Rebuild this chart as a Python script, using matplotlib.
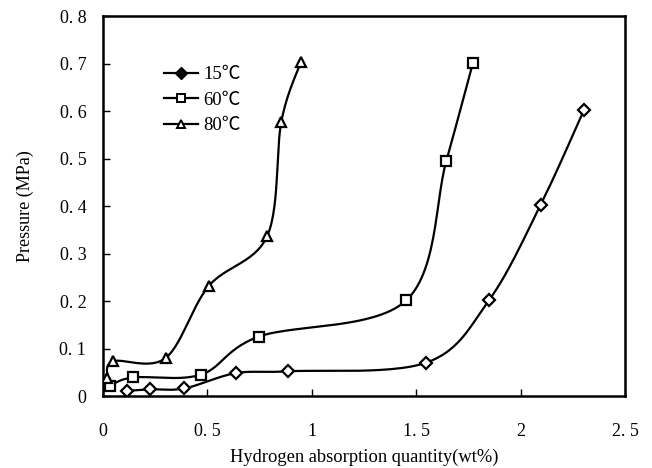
import numpy as np
import matplotlib
matplotlib.use("Agg")
import matplotlib.pyplot as plt
from matplotlib.lines import Line2D

# Data
x15 = [0.114, 0.224, 0.39, 0.635, 0.886, 1.547, 1.848, 2.096, 2.304]
y15 = [0.012, 0.015, 0.017, 0.049, 0.053, 0.071, 0.202, 0.403, 0.603]
x60 = [0.032, 0.144, 0.47, 0.747, 1.452, 1.644, 1.772]
y60 = [0.022, 0.040, 0.046, 0.126, 0.202, 0.495, 0.702]
x80 = [0.021, 0.048, 0.30, 0.506, 0.787, 0.854, 0.947]
y80 = [0.038, 0.074, 0.081, 0.232, 0.338, 0.578, 0.703]
labels = ["15℃", "60℃", "80℃"]
xticks = [0, 0.5, 1, 1.5, 2, 2.5]
xticklabels = ["0", "0. 5", "1", "1. 5", "2", "2. 5"]
yticks = [0, 0.1, 0.2, 0.3, 0.4, 0.5, 0.6, 0.7, 0.8]
yticklabels = ["0", "0. 1", "0. 2", "0. 3", "0. 4", "0. 5", "0. 6", "0. 7", "0. 8"]

FONT = ["Liberation Serif", "Noto Sans CJK SC", "DejaVu Serif"]
plt.rcParams["font.family"] = FONT


def smooth(xs, ys, n=30):
    """Excel-like smoothed line (Catmull-Rom Bezier) through the points."""
    P = np.column_stack([xs, ys]).astype(float)
    out = []
    for i in range(len(P) - 1):
        p0 = P[i - 1] if i > 0 else P[i]
        p1 = P[i]
        p2 = P[i + 1]
        p3 = P[i + 2] if i + 2 < len(P) else P[i + 1]
        c1 = p1 + (p2 - p0) / 6.0
        c2 = p2 - (p3 - p1) / 6.0
        t = np.linspace(0, 1, n)[:, None]
        seg = ((1 - t) ** 3) * p1 + 3 * ((1 - t) ** 2) * t * c1 + 3 * (1 - t) * t ** 2 * c2 + t ** 3 * p2
        out.append(seg if i == 0 else seg[1:])
    S = np.vstack(out)
    return S[:, 0], S[:, 1]


fig = plt.figure(figsize=(6.52, 4.68), dpi=100)
ax = fig.add_axes([0.158, 0.1528, 0.8006, 0.813])

series = [(x15, y15, "D", 6), (x60, y60, "s", 7), (x80, y80, "^", 7)]
for (xs, ys, m, ms), lab in zip(series, labels):
    sx, sy = smooth(xs, ys)
    ax.plot(sx, sy, color="black", lw=1.6, zorder=2)
    ax.plot(xs, ys, ls="none", marker=m, ms=ms, mfc="white", mec="black", mew=1.6, zorder=3)

handles = [
    Line2D([], [], color="black", lw=1.6, marker="D", ms=6, mfc="black", mec="black"),
    Line2D([], [], color="black", lw=1.6, marker="s", ms=6, mfc="white", mec="black", mew=1.4),
    Line2D([], [], color="black", lw=1.6, marker="^", ms=6, mfc="white", mec="black", mew=1.4),
]
leg = ax.legend(handles, labels, loc="upper left", bbox_to_anchor=(0.088, 0.908),
                frameon=False, prop={"family": FONT, "size": 13.5},
                handlelength=1.8, handletextpad=0.3, labelspacing=0.45, borderpad=0.3)

ax.set_xlim(0, 2.5)
ax.set_ylim(0, 0.8)
ax.set_xticks(xticks)
ax.set_xticklabels(xticklabels)
ax.set_yticks(yticks)
ax.set_yticklabels(yticklabels)
ax.tick_params(direction="in", length=5, width=1, labelsize=13)
ax.tick_params(axis="x", pad=19)
ax.tick_params(axis="y", pad=12)
for sp in ax.spines.values():
    sp.set_linewidth(1.8)

ax.set_xlabel("Hydrogen absorption quantity(wt%)", fontsize=13.3, labelpad=6)
ax.set_ylabel("Pressure (MPa)", fontsize=13, labelpad=18)

fig.savefig("out.png", dpi=100)
